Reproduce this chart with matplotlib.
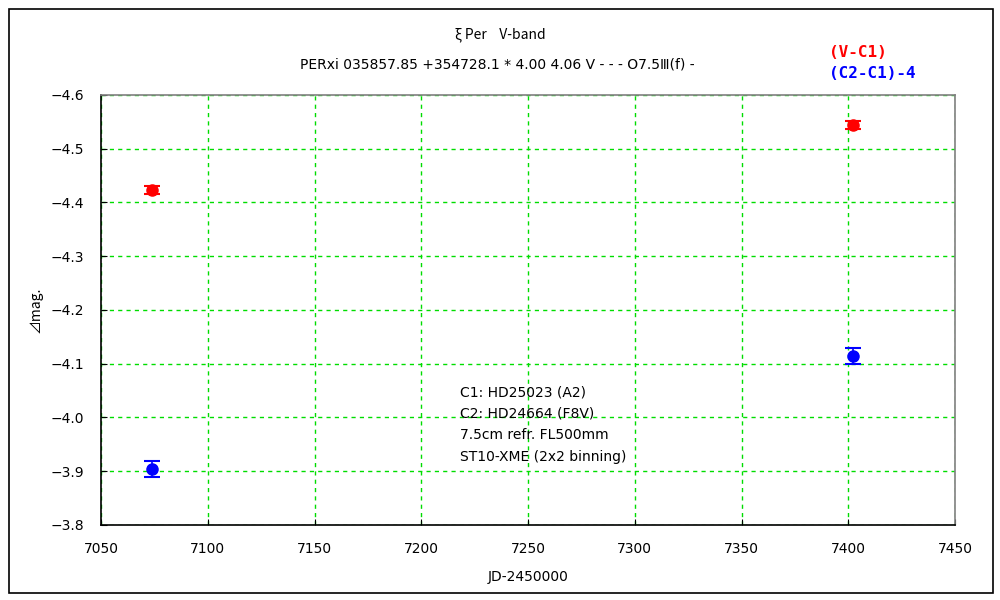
import matplotlib
matplotlib.use("Agg")
import matplotlib.pyplot as plt
from matplotlib.patches import Rectangle

plt.rcParams['font.family'] = ['DejaVu Sans', 'Noto Sans CJK JP']

# observations
jd = [7074, 7402]
v_c1 = [-4.423, -4.544]
v_c1_err = [0.008, 0.008]
c2_c1 = [-3.904, -4.114]
c2_c1_err = [0.015, 0.015]

x_ticks = [7050, 7100, 7150, 7200, 7250, 7300, 7350, 7400, 7450]
y_ticks = [-4.6, -4.5, -4.4, -4.3, -4.2, -4.1, -4.0, -3.9, -3.8]

notes = ["C1: HD25023 (A2)", "C2: HD24664 (F8V)",
         "7.5cm refr. FL500mm", "ST10-XME (2x2 binning)"]

fig = plt.figure(figsize=(10, 6), dpi=100)
ax = fig.add_axes([0.101, 0.125, 0.854, 0.717])

ax.errorbar(jd, v_c1, yerr=v_c1_err, fmt='o', color='red', ms=8,
            capsize=6, elinewidth=1.2, capthick=1.5, zorder=3)
ax.errorbar(jd, c2_c1, yerr=c2_c1_err, fmt='o', color='blue', ms=8,
            capsize=6, elinewidth=1.2, capthick=1.5, zorder=3)

ax.set_xlim(7050, 7450)
ax.set_ylim(-3.8, -4.6)
ax.set_xticks(x_ticks)
ax.set_yticks(y_ticks)
ax.set_yticklabels([f"{v:.1f}".replace('-', '\u2212') for v in y_ticks])
ax.grid(True, color='#00dd00', linestyle=(0, (3, 3)), linewidth=1)
ax.tick_params(direction='in', length=4, labelsize=10, pad=12)

ax.spines['top'].set_color('gray')
ax.spines['right'].set_color('gray')
for s in ax.spines.values():
    s.set_linewidth(1.2)

ax.set_xlabel('JD-2450000', fontsize=10, labelpad=10)
ax.set_ylabel('⊿mag.', fontsize=10, labelpad=6, family=['Noto Sans CJK JP', 'DejaVu Sans'])

fig.text(0.5, 0.942, 'ξ Per    V-band', ha='center', va='center', fontsize=10,
         family=['Noto Sans CJK JP', 'DejaVu Sans'])
fig.text(0.497, 0.892, 'PERxi 035857.85 +354728.1 * 4.00 4.06 V - - - O7.5Ⅲ(f) -',
         ha='center', va='center', fontsize=10)

fig.text(0.829, 0.912, '(V-C1)', color='red', fontsize=11.5, va='center',
         family='DejaVu Sans Mono', fontweight='bold')
fig.text(0.829, 0.877, '(C2-C1)-4', color='blue', fontsize=11.5, va='center',
         family='DejaVu Sans Mono', fontweight='bold')

for i, line in enumerate(notes):
    ax.text(7218, -4.047 + i * 0.04, line, fontsize=10, va='center', ha='left')

fig.patches.append(Rectangle((0.009, 0.012), 0.984, 0.973, transform=fig.transFigure,
                             fill=False, edgecolor='black', linewidth=1.2))

fig.savefig('out.png', dpi=100)
